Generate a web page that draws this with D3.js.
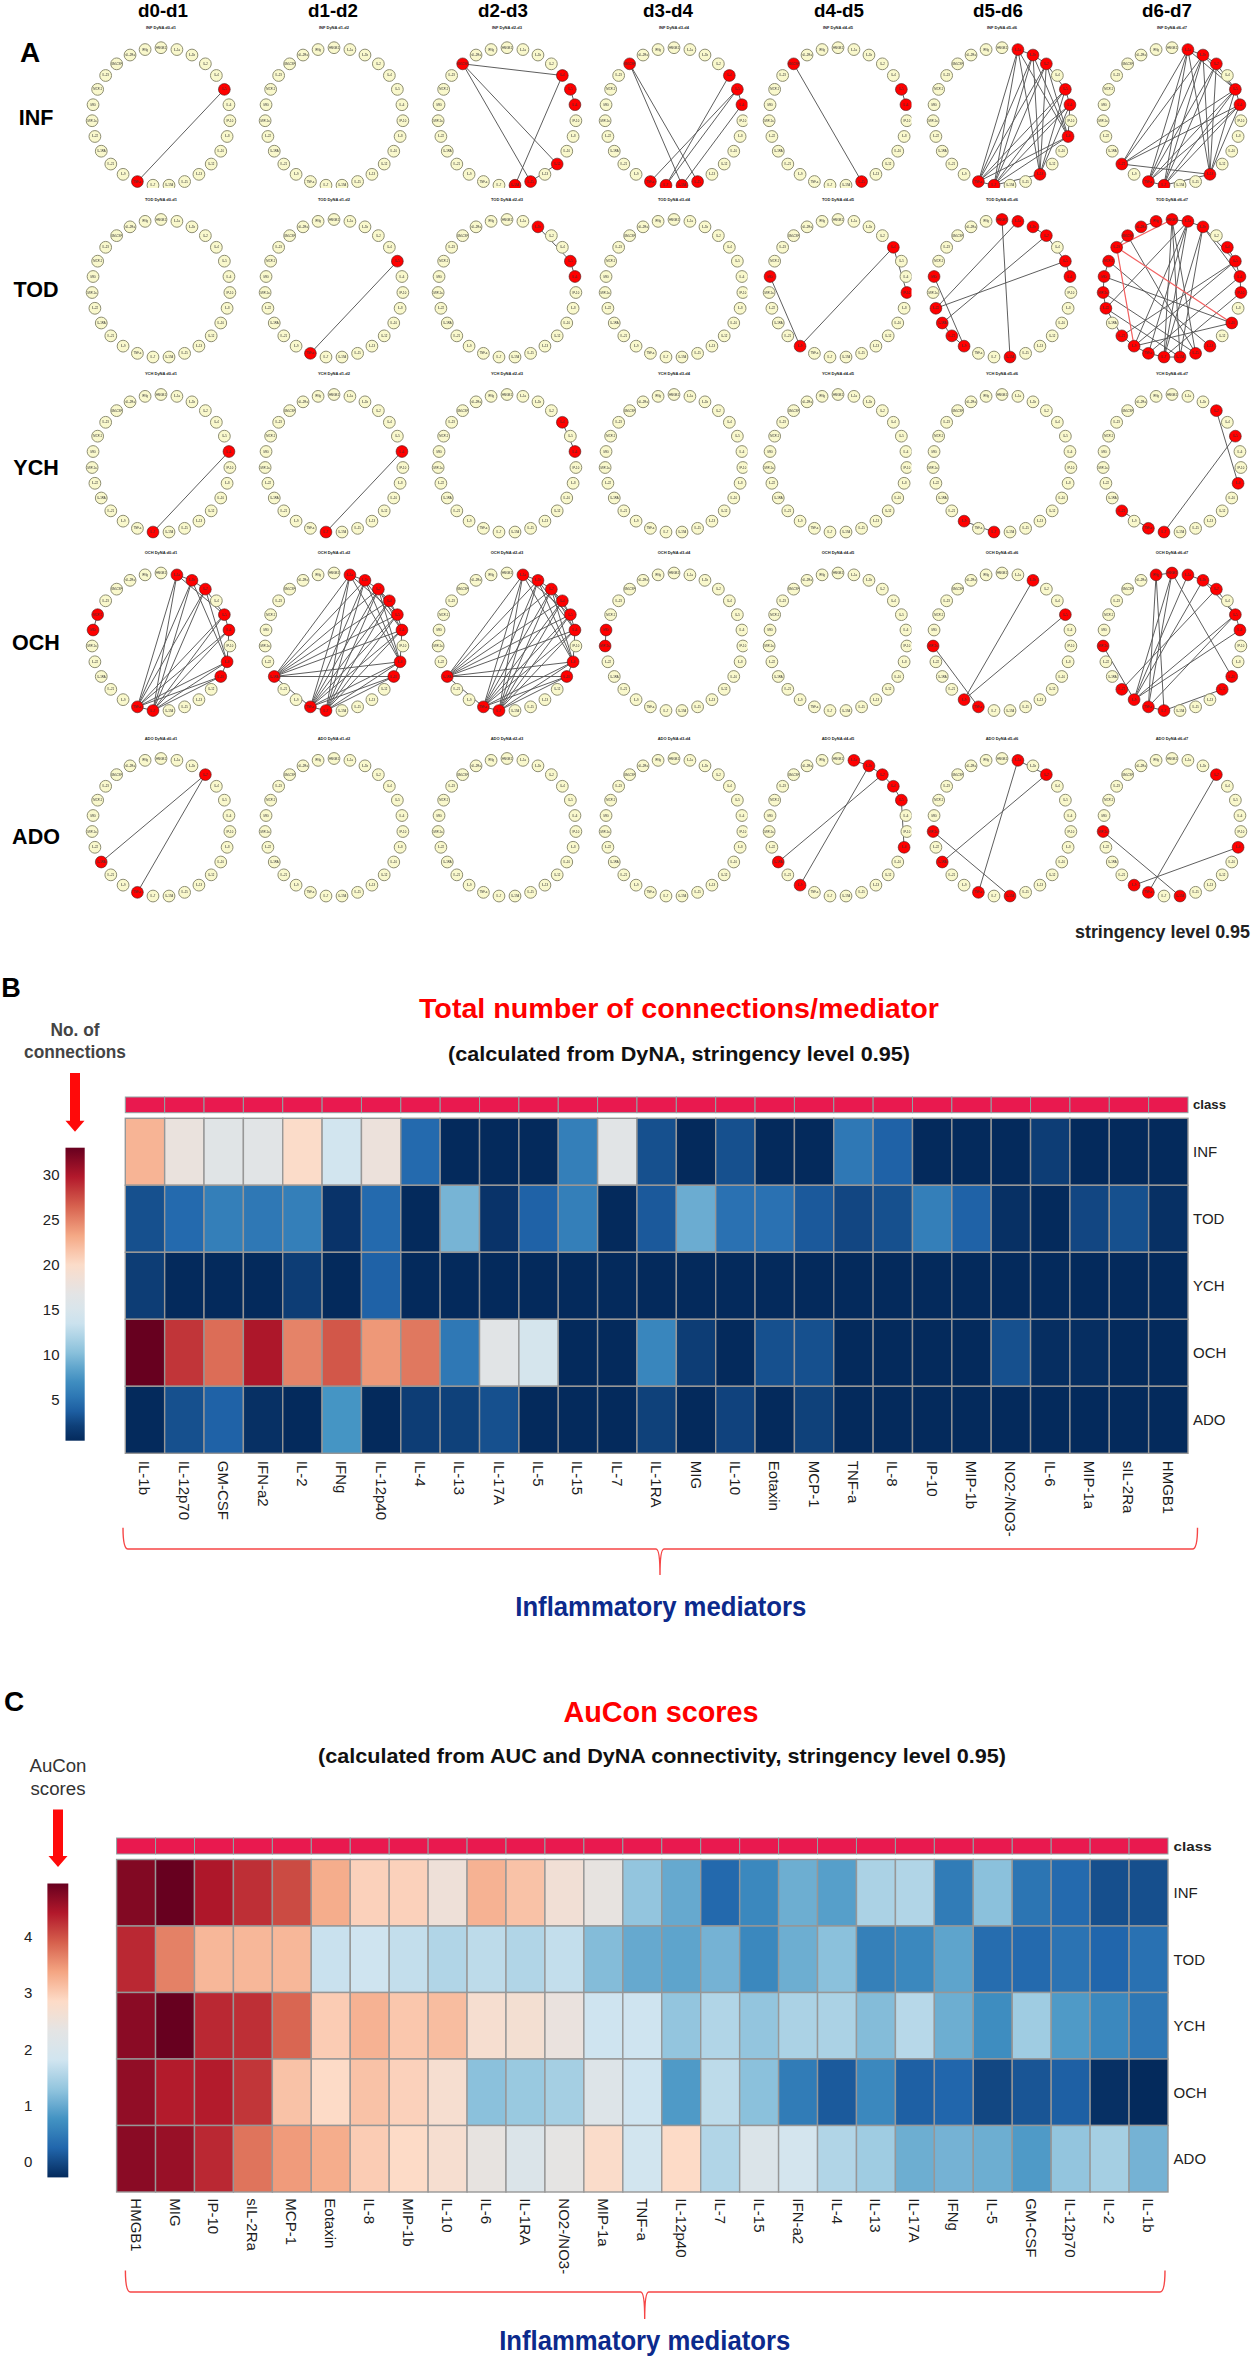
<!DOCTYPE html>
<html><head><meta charset="utf-8">
<script src="https://cdn.jsdelivr.net/npm/d3@7/dist/d3.min.js"></script>
<style>html,body{margin:0;padding:0;background:#fff}svg{display:block}text{font-family:"Liberation Sans",Arial,sans-serif}</style>
</head><body><svg id="c" width="1260" height="2359"></svg>
<script>
// ---- data ----
const groups = ["INF","TOD","YCH","OCH","ADO"];
const intervals = ["d0-d1","d1-d2","d2-d3","d3-d4","d4-d5","d5-d6","d6-d7"];
const ringNames = ["HMGB1","IL-1a","IL-1b","IL-2","IL-4","IL-5","IL-6","IP-10","IL-8","IL-10","IL-12","IL-13","IL-15","IL-17A","IL-7","TNF-a","IL-9","IL-21","IL-1RA","IL-22","MIP-1a","MIG","MCP-1","IL-23","GM-CSF","sIL-2Ra","IFNg"];

const edges_INF = [
 [[5,15]], [],
 [[4,24],[24,10],[24,12],[13,4],[5,6],[10,12]],
 [[12,24],[13,24],[14,4],[15,5],[14,5],[13,6],[5,6]],
 [[12,24],[5,6]],
 [[15,1],[14,1],[11,1],[15,2],[14,2],[11,2],[15,3],[14,3],[11,3],[15,5],[14,5],[11,5],[15,6],[14,6],[11,6],[15,8],[14,8],[11,14],[14,15],[1,2],[2,3],[3,5],[5,6],[6,8],[2,8],[1,8],[3,8]],
 [[17,1],[15,1],[14,1],[11,1],[15,2],[14,2],[11,2],[17,2],[15,3],[14,3],[11,3],[17,5],[15,5],[14,5],[11,5],[17,6],[15,6],[14,6],[11,6],[11,17],[11,14],[14,15],[1,2],[2,3],[3,5],[5,6],[1,5],[2,5]]
];
const edges_TOD = [
 [], [[5,15]], [[2,5],[5,6]], [],
 [[4,7],[4,16],[21,16]],
 [[0,13],[1,19],[2,3],[3,18],[3,5],[5,6],[5,19],[21,16],[18,17],[17,16]],
 [[25,26],[0,1],[1,2],[2,5],[2,6],[4,5],[5,6],[6,7],[1,16],[1,15],[1,14],[0,14],[0,13],[2,14],[2,13],[24,12],[0,12],[5,16],[5,17],[21,9],[20,12],[19,13],[22,21],[21,20],[20,19],[19,17],[17,16],[16,15],[15,14],[14,13],[9,16],[7,14],[1,19],[24,23],[6,15],[22,11]]
];
const redEdges_TOD_d6d7 = [[0,23],[23,9],[23,16]];
const edges_YCH = [
 [[6,14]], [[6,14]], [[4,6]], [], [],
 [[16,14]],
 [[3,8],[5,14],[17,15]]
];
const hubOCH = [[15,1],[14,1],[15,2],[14,2],[15,3],[14,3],[15,5],[14,5],[15,6],[14,6],[15,8],[14,8],[15,9],[14,9],[14,15],[1,2],[2,3],[3,5],[5,6],[6,8],[8,9],[2,8],[3,8],[1,5]];
const hubOCH18 = [[18,1],[18,2],[18,3],[18,5],[18,6],[18,8],[18,9],[18,15],[18,4],[15,4],[14,4],[3,4],[4,5],[1,8],[2,6],[3,6]];
const edges_OCH = [
 hubOCH.concat([[21,22]]),
 hubOCH.concat(hubOCH18),
 hubOCH.concat(hubOCH18),
 [[20,21]], [],
 [[2,16],[5,16],[20,15]],
 [[26,14],[26,15],[0,16],[0,9],[1,16],[2,16],[3,17],[5,16],[5,15],[6,16],[10,14],[20,16],[26,0],[1,2],[2,3],[3,5],[5,6],[2,5],[15,14],[0,15]]
];
const edges_ADO = [
 [[3,18],[3,15]], [], [], [],
 [[1,2],[2,3],[3,4],[4,5],[5,8],[3,18],[2,16]],
 [[1,3],[1,15],[3,18],[20,13]],
 [[3,15],[20,13],[8,16]]
];

const mediatorsB = ["IL-1b","IL-12p70","GM-CSF","IFN-a2","IL-2","IFNg","IL-12p40","IL-4","IL-13","IL-17A","IL-5","IL-15","IL-7","IL-1RA","MIG","IL-10","Eotaxin","MCP-1","TNF-a","IL-8","IP-10","MIP-1b","NO2-/NO3-","IL-6","MIP-1a","sIL-2Ra","HMGB1"];
const connINF = [22.5,17.8,16.4,16.5,20,14,18,4.5,1,1,1,6,16.5,3,1,3,1,1,5.5,4,1,1,1,2,1,1,1];
const connTOD = [3,4.5,6,5.5,6,1.5,4.5,1,9.5,1.5,4,6,1,3.5,9,5,5,3.5,2.5,3,6,4,1.3,1,2.5,3,1.3];
const connYCH = [2,1,1,1,2,1,4,1,1,1,1,1,1,1,1,1,1,1,1,1,1,1,1,1,1,1,1];
const connOCH = [33,28.5,26,30,25,27,24,25.5,5.5,16.5,14.5,1,1,6.5,2,1,3,3,1,1,1,1,3,1.2,1.2,1,1];
const connADO = [1,3,4,1.3,1,7.5,1,2,2.2,3,1,1,1,2.2,1,2.3,1,2.2,1,1,1,1,1,1,1,1,1];

const mediatorsC = ["HMGB1","MIG","IP-10","sIL-2Ra","MCP-1","Eotaxin","IL-8","MIP-1b","IL-10","IL-6","IL-1RA","NO2-/NO3-","MIP-1a","TNF-a","IL-12p40","IL-7","IL-15","IFN-a2","IL-4","IL-13","IL-17A","IFNg","IL-5","GM-CSF","IL-12p70","IL-2","IL-1b"];
const auconINF = [4.75,4.94,4.45,4.25,4.05,3.3,2.95,2.95,2.55,3.25,3.1,2.6,2.4,1.3,1.0,0.28,0.65,1.05,0.9,1.5,1.55,0.5,1.25,0.42,0.3,0.05,0.05];
const auconTOD = [4.3,3.65,3.2,3.2,3.2,1.75,1.8,1.7,1.55,1.65,1.55,1.7,1.2,1.0,0.95,1.1,0.65,1.05,1.25,0.55,0.65,0.95,0.33,0.3,0.4,0.25,0.38];
const auconYCH = [4.7,4.94,4.3,4.25,3.85,3.0,3.25,3.05,3.15,2.7,2.65,2.45,1.8,1.8,1.3,1.55,1.3,1.5,1.5,1.2,1.6,1.05,0.7,1.4,0.85,0.65,0.45];
const auconOCH = [4.65,4.4,4.4,4.2,3.1,2.85,3.1,2.95,2.7,1.25,1.35,1.45,2.15,1.8,0.85,1.65,1.25,0.5,0.15,0.65,0.2,0.25,-0.02,0.1,0.2,-0.22,-0.27];
const auconADO = [4.7,4.6,4.3,3.75,3.45,3.3,3.0,2.85,2.7,2.4,2.1,2.35,2.8,1.85,2.85,1.55,2.1,1.9,1.55,1.4,1.05,1.1,1.05,0.85,1.3,1.45,1.1];

const ticksB = [5,10,15,20,25,30];
const ticksC = [0,1,2,3,4];
const palette = ["#042a5c","#2166ac","#4393c3","#92c5de","#d1e5f0","#e4e4e4","#fddbc7","#f4a582","#d6604d","#b2182b","#67001f"];

// ---- helpers ----
const svg = d3.select("#c");
const defs = svg.append("defs");
const blur = defs.append("filter").attr("id","soft").attr("x","-5%").attr("y","-5%").attr("width","110%").attr("height","110%");
blur.append("feGaussianBlur").attr("stdDeviation",0.35);
function txt(s,x,y,o={}){
  const t = svg.append("text").attr("x",x).attr("y",y).attr("text-anchor",o.anchor||"middle")
    .attr("dominant-baseline","central").attr("font-size",o.size||15).attr("font-weight",o.weight||"normal")
    .attr("fill",o.fill||"#000").text(s);
  if(o.w) t.attr("textLength",o.w).attr("lengthAdjust","spacingAndGlyphs");
  return t;
}
function mk(id,col){
  defs.append("marker").attr("id",id).attr("markerUnits","userSpaceOnUse").attr("markerWidth",14).attr("markerHeight",8)
    .attr("viewBox","0 -4 14 8").attr("refX",10.2).attr("refY",0).attr("orient","auto")
    .append("path").attr("d","M6,-2.2L10.2,0L6,2.2Z").attr("fill",col);
}
mk("arr","#111"); mk("arrR","#ee3333");

// ---- panel A ----
const colX = d3.scaleOrdinal().domain(intervals).range([161,334,507,674,838,1002,1172]);
const rowY = d3.scaleOrdinal().domain(groups).range([116.7,288.5,463.5,642,827.5]);
const titleY = d3.scaleOrdinal().domain(groups).range([27,199,373.5,552.5,738]);
const rowLabelY = d3.scaleOrdinal().domain(groups).range([118,290,468,643,837]);
const headX = d3.scaleOrdinal().domain(intervals).range([163,333,503,668,839,998,1167]);
const ang = d3.scaleLinear().domain([0,ringNames.length]).range([0,2*Math.PI]);
const RADIUS = 69, NODE = 5.9;
const pos = i => d3.pointRadial(ang(i),RADIUS);
const allEdges = {INF:edges_INF,TOD:edges_TOD,YCH:edges_YCH,OCH:edges_OCH,ADO:edges_ADO};

intervals.forEach(d=>txt(d,headX(d),10,{size:18.5,weight:"bold",w:50}));
groups.forEach(g=>{
  txt(g,36,rowLabelY(g),{size:21.5,weight:"bold"});
  intervals.forEach((iv,k)=>{
    const cx=colX(iv), cy=rowY(g);
    const id=`cl-${g}-${k}`;
    const cw = (k===3||k===4)?73.5:85, ch = g==="INF"?71.3:85;
    defs.append("clipPath").attr("id",id).append("rect").attr("x",-85).attr("y",-85).attr("width",85+cw).attr("height",85+ch);
    txt(`${g} DyNA ${iv}`,cx,titleY(g),{size:4,weight:"bold",fill:"#222"});
    const p = svg.append("g").attr("transform",`translate(${cx},${cy})`).attr("filter","url(#soft)").append("g").attr("clip-path",`url(#${id})`);
    const E = allEdges[g][k];
    const R = (g==="TOD"&&k===6)?redEdges_TOD_d6d7:[];
    const active = new Set(E.concat(R).flat());
    const draw=(arr,col,m,w)=>p.selectAll(null).data(arr).join("line")
      .attr("x1",d=>pos(d[0])[0]).attr("y1",d=>pos(d[0])[1]).attr("x2",d=>pos(d[1])[0]).attr("y2",d=>pos(d[1])[1])
      .attr("stroke",col).attr("stroke-width",w).attr("marker-end",`url(#${m})`);
    draw(E,"#555",  "arr",0.95);
    draw(R,"#f36060","arrR",1.2);
    const n = p.selectAll(null).data(ringNames).join("g").attr("transform",(d,i)=>`translate(${pos(i)})`);
    n.append("circle").attr("r",NODE)
      .attr("fill",(d,i)=>active.has(i)?"#ff0000":"#f9f8cc")
      .attr("stroke",(d,i)=>active.has(i)?"#4a2020":"#8d8d72").attr("stroke-width",(d,i)=>active.has(i)?0.6:1);
    n.append("text").attr("text-anchor","middle").attr("dominant-baseline","central").attr("font-size",2.8).attr("fill","#333").text(d=>d);
  });
});
txt("A",30,52,{size:28,weight:"bold"});
txt("stringency  level 0.95",1162.5,932,{size:18,weight:"bold",fill:"#222",w:175});

// ---- heatmaps ----
function heat(o){
  const x=d3.scaleBand().domain(o.cols).range([o.x0,o.x1]);
  const y=d3.scaleBand().domain(groups).range([o.y0,o.y1]);
  const col=d3.scaleLinear().domain(palette.map((c,i)=>o.cdom[0]+(o.cdom[1]-o.cdom[0])*i/(palette.length-1))).range(palette).interpolate(d3.interpolateRgb).clamp(true);
  const g=svg.append("g");
  // class bar
  g.selectAll(null).data(o.cols).join("rect").attr("x",d=>x(d)).attr("y",o.cy0).attr("width",x.bandwidth()).attr("height",o.cy1-o.cy0)
    .attr("fill","#e9194f").attr("stroke","#8fa3a3").attr("stroke-width",1);
  txt("class",o.lx,(o.cy0+o.cy1)/2,{anchor:"start",size:13.5,weight:"bold",fill:"#222",w:o.clsW});
  // cells
  groups.forEach(r=>{
    g.selectAll(null).data(o.vals[r].map((v,i)=>({c:o.cols[i],v}))).join("rect")
      .attr("x",d=>x(d.c)).attr("y",y(r)).attr("width",x.bandwidth()).attr("height",y.bandwidth())
      .attr("fill",d=>col(d.v)).attr("stroke","#979797").attr("stroke-width",1.4);
    txt(r,o.lx,y(r)+y.bandwidth()/2,{anchor:"start",size:15,fill:"#222"});
  });
  // bottom axis
  const ax=svg.append("g").attr("transform",`translate(0,${o.y1})`).call(d3.axisBottom(x).tickSize(0).tickPadding(0));
  ax.select(".domain").remove();
  ax.selectAll("text").attr("font-family",null).attr("font-size",15).attr("fill","#1c1c1c").attr("text-anchor","start").attr("dy",null)
    .attr("dominant-baseline","central").attr("y",0).attr("x",0).attr("transform",`translate(0,${o.lab}) rotate(90)`);
  // colourbar
  const cy=d3.scaleLinear().domain(o.dom).range([o.by1,o.by0]);
  const gid="g"+o.id;
  const lg=defs.append("linearGradient").attr("id",gid).attr("x1",0).attr("x2",0).attr("y1",1).attr("y2",0);
  d3.range(0,1.0001,0.05).forEach(t=>lg.append("stop").attr("offset",t).attr("stop-color",col(o.dom[0]+t*(o.dom[1]-o.dom[0]))));
  svg.append("rect").attr("x",o.bx0).attr("y",o.by0).attr("width",o.bx1-o.bx0).attr("height",o.by1-o.by0).attr("fill",`url(#${gid})`);
  const ay=svg.append("g").attr("transform",`translate(${o.bx0-o.tickGap},0)`).call(d3.axisLeft(cy).tickValues(o.ticks).tickFormat(d3.format("d")).tickSize(0).tickPadding(0));
  ay.select(".domain").remove();
  ay.selectAll("text").attr("font-family",null).attr("font-size",15).attr("fill","#222");
  // arrow
  const a=o.ax;
  svg.append("path").attr("d",`M${a-5},${o.ay0}H${a+5}V${o.ay1-11}H${a+9.5}L${a},${o.ay1}L${a-9.5},${o.ay1-11}H${a-5}Z`).attr("fill","#ff0a0a");
  // bracket
  const b=d3.path(), [l,r_,t,m,mx,bot]=o.br;
  b.moveTo(l,t); b.quadraticCurveTo(l,m,l+5,m); b.lineTo(mx-4,m); b.quadraticCurveTo(mx,m,mx,bot);
  b.moveTo(mx,bot); b.quadraticCurveTo(mx,m,mx+4,m); b.lineTo(r_-5,m); b.quadraticCurveTo(r_,m,r_,t);
  svg.append("path").attr("d",b.toString()).attr("fill","none").attr("stroke","#f64545").attr("stroke-width",1.4);
}
heat({id:"B",cols:mediatorsB,vals:{INF:connINF,TOD:connTOD,YCH:connYCH,OCH:connOCH,ADO:connADO},
  x0:125.3,x1:1188,y0:1118.3,y1:1453.3,cy0:1097,cy1:1112.7,lx:1193,clsW:33,lab:7.5,dom:[0.5,33],cdom:[1,33],tickGap:6,
  bx0:65.5,bx1:84.7,by0:1147.7,by1:1440.7,ticks:ticksB,ax:75,ay0:1073,ay1:1131.7,br:[123,1197.5,1527.7,1549,660,1575]});
heat({id:"C",cols:mediatorsC,vals:{INF:auconINF,TOD:auconTOD,YCH:auconYCH,OCH:auconOCH,ADO:auconADO},
  x0:116.6,x1:1168,y0:1859.5,y1:2192,cy0:1838,cy1:1854,lx:1173.6,clsW:38,lab:6.3,dom:[-0.27,4.94],cdom:[-0.27,4.94],tickGap:15,
  bx0:47.4,bx1:68.3,by0:1883.5,by1:2177.4,ticks:ticksC,ax:58,ay0:1809.6,ay1:1867,br:[125.4,1165,2270.6,2292,644.7,2319]});

txt("B",11,988,{size:27,weight:"bold"});
txt("Total number of connections/mediator",679,1008,{size:28,weight:"bold",fill:"#ff0000",w:520});
txt("(calculated from DyNA, stringency level 0.95)",679,1053,{size:21,weight:"bold",fill:"#111",w:462});
txt("No. of",75,1030,{size:18,weight:"bold",fill:"#444",w:49});
txt("connections",75,1052,{size:18,weight:"bold",fill:"#444",w:102});
txt("Inflammatory mediators",660.8,1607,{size:27,weight:"bold",fill:"#0c2a8c",w:291});
txt("C",14,1701,{size:28,weight:"bold"});
txt("AuCon scores",661,1711,{size:30,weight:"bold",fill:"#ff0000",w:195});
txt("(calculated from AUC and DyNA connectivity, stringency level 0.95)",662,1755.6,{size:21,weight:"bold",fill:"#111",w:688});
txt("AuCon",58,1766,{size:18,fill:"#333",w:57});
txt("scores",58,1789,{size:18,fill:"#333",w:55});
txt("Inflammatory mediators",644.7,2341,{size:27,weight:"bold",fill:"#0c2a8c",w:291});
</script></body></html>
